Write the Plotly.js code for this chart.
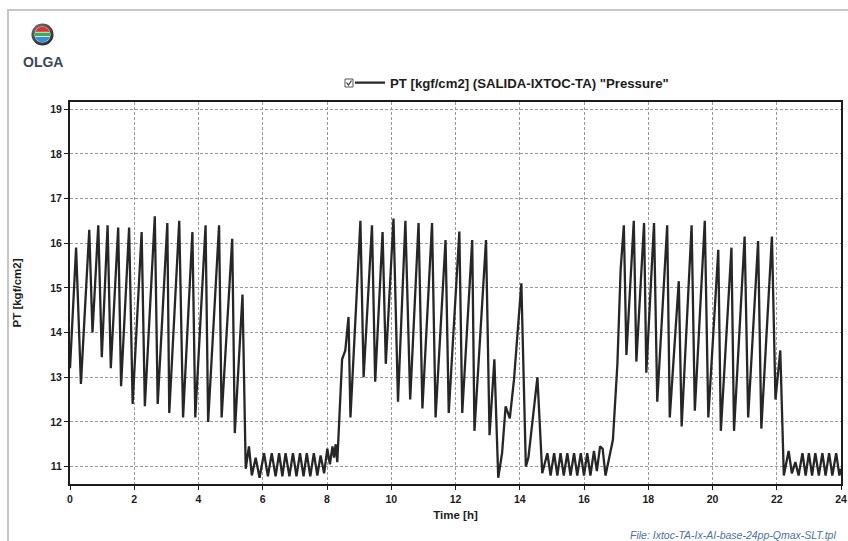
<!DOCTYPE html>
<html>
<head>
<meta charset="utf-8">
<script src="https://cdn.plot.ly/plotly-3.0.1.min.js"></script>
<style>
  html, body { margin: 0; padding: 0; background: #ffffff; }
  #chart { width: 848px; height: 541px; }
</style>
</head>
<body>
<div id="chart"></div>
<script>
// Outlet pressure trend, OLGA simulation (time in hours, pressure in kgf/cm2)
const timeH = [
  0.00, 0.19, 0.34, 0.60, 0.70, 0.88, 0.99, 1.17, 1.27, 1.50, 1.59, 1.84, 1.95,
  2.23, 2.33, 2.64, 2.73, 3.03, 3.09, 3.40, 3.52, 3.81, 3.90, 4.22, 4.30, 4.64,
  4.72, 5.05, 5.13, 5.37, 5.47,
  5.57, 5.66, 5.78, 5.90, 6.04, 6.16, 6.28, 6.40, 6.51, 6.61, 6.71, 6.83, 6.94,
  7.05, 7.16, 7.27, 7.37, 7.48, 7.59, 7.70, 7.80, 7.91, 8.01, 8.09, 8.17, 8.22,
  8.27, 8.32,
  8.47, 8.57, 8.67, 8.73, 9.04, 9.14, 9.40, 9.50, 9.73, 9.83, 10.07, 10.21,
  10.44, 10.59, 10.85, 10.97, 11.27, 11.38, 11.69, 11.79, 12.12, 12.21, 12.52,
  12.59, 12.95, 13.06, 13.21, 13.33, 13.45, 13.56, 13.69, 13.82, 13.92, 14.05,
  14.19, 14.27, 14.55, 14.70,
  14.86, 14.96, 15.07, 15.17, 15.27, 15.37, 15.48, 15.58, 15.69, 15.79, 15.90,
  16.00, 16.10, 16.20, 16.31, 16.40, 16.50, 16.58, 16.67, 16.80, 16.90,
  17.04, 17.14, 17.24, 17.32, 17.55, 17.63, 17.87, 17.94, 18.18, 18.28, 18.59,
  18.67, 18.95, 19.04, 19.35, 19.45, 19.76, 19.87, 20.18, 20.26, 20.59, 20.67,
  21.00, 21.11, 21.42, 21.52, 21.85, 21.96, 22.11, 22.22,
  22.37, 22.47, 22.58, 22.68, 22.80, 22.90, 23.00, 23.10, 23.20, 23.31, 23.42,
  23.52, 23.63, 23.73, 23.85, 23.95, 24.00
];
const pressure = [
  13.20, 15.90, 12.85, 16.30, 14.00, 16.40, 13.45, 16.40, 13.20, 16.35, 12.80, 16.35, 12.40,
  16.25, 12.35, 16.60, 12.40, 16.45, 12.20, 16.50, 12.10, 16.25, 12.10, 16.40, 12.00, 16.40,
  12.10, 16.10, 11.75, 14.85, 10.95,
  11.45, 10.80, 11.20, 10.75, 11.30, 10.78, 11.30, 10.78, 11.30, 10.78, 11.30, 10.78, 11.30,
  10.78, 11.30, 10.78, 11.30, 10.78, 11.30, 10.80, 11.25, 10.85, 11.40, 11.05, 11.45, 11.20,
  11.50, 11.10,
  13.40, 13.60, 14.35, 12.10, 16.50, 13.00, 16.40, 12.90, 16.25, 13.30, 16.55, 12.45,
  16.50, 12.50, 16.45, 12.30, 16.45, 12.10, 16.07, 12.20, 16.26, 12.20, 16.07,
  11.80, 16.07, 11.70, 13.40, 10.75, 11.30, 12.35, 12.08, 12.94, 13.90, 15.10,
  11.00, 11.20, 13.00, 10.85,
  11.30, 10.80, 11.30, 10.80, 11.30, 10.80, 11.30, 10.80, 11.30, 10.80, 11.30,
  10.80, 11.30, 10.80, 11.35, 10.90, 11.45, 11.40, 10.80, 11.30, 11.60,
  13.30, 15.40, 16.40, 13.50, 16.50, 13.35, 16.45, 13.10, 16.45, 12.45, 16.40,
  12.10, 15.15, 11.90, 16.40, 12.25, 16.50, 12.10, 15.85, 11.80, 15.90, 11.80,
  16.15, 12.10, 16.05, 11.85, 16.15, 12.50, 13.60, 10.80,
  11.35, 10.85, 11.10, 10.80, 11.30, 10.80, 11.30, 10.80, 11.30, 10.80, 11.30,
  10.80, 11.30, 10.80, 11.30, 10.80, 10.95
];
const seriesName = 'PT [kgf/cm2] (SALIDA-IXTOC-TA) "Pressure"';
const xTicks = [0, 2, 4, 6, 8, 10, 12, 14, 16, 18, 20, 22, 24];
const yTicks = [11, 12, 13, 14, 15, 16, 17, 18, 19];
const xTitle = 'Time [h]';
const yTitle = 'PT [kgf/cm2]';
const fileNote = 'File: Ixtoc-TA-Ix-AI-base-24pp-Qmax-SLT.tpl';

// page geometry and helpers to place decorations in paper coordinates
const W = 848, H = 541;
const M = { l: 70, r: 7, t: 102, b: 57 };
const PW = W - M.l - M.r, PH = H - M.t - M.b;
const px = x => (x - M.l) / PW;
const py = y => (H - M.b - y) / PH;

const FONT = 'Liberation Sans, Arial, sans-serif';
const INK = '#1c1c1c';

// logo badge: dark ring with coloured bands
const logoSvg =
  '<svg xmlns="http://www.w3.org/2000/svg" viewBox="0 0 24 24">' +
  '<defs><clipPath id="c"><circle cx="12" cy="12" r="8.2"/></clipPath>' +
  '<radialGradient id="g" cx="0.4" cy="0.35" r="0.7"><stop offset="0" stop-color="#8a8a8a"/>' +
  '<stop offset="1" stop-color="#262626"/></radialGradient></defs>' +
  '<circle cx="12" cy="12" r="11.5" fill="url(#g)"/>' +
  '<circle cx="12" cy="12" r="8.4" fill="#ffffff"/>' +
  '<g clip-path="url(#c)">' +
  '<rect x="0" y="0" width="24" height="9.2" fill="#e0332f"/>' +
  '<rect x="0" y="10" width="24" height="3.6" fill="#3daf4a"/>' +
  '<rect x="0" y="14.4" width="24" height="10" fill="#3690d6"/>' +
  '</g></svg>';

const trace = {
  x: timeH,
  y: pressure,
  type: 'scatter',
  mode: 'lines',
  name: seriesName,
  line: { color: '#262626', width: 2.3 },
  showlegend: true
};

const axisCommon = {
  showline: true,
  linecolor: INK,
  linewidth: 2,
  mirror: true,
  ticks: 'outside',
  ticklen: 4,
  tickwidth: 1,
  tickcolor: INK,
  showgrid: true,
  gridcolor: '#9a9a9a',
  gridwidth: 1,
  griddash: '3px,2px',
  zeroline: false,
  tickfont: { family: FONT, size: 10.5, color: INK, weight: 'bold' }
};

const layout = {
  width: W,
  height: H,
  margin: { l: M.l, r: M.r, t: M.t, b: M.b, pad: 0 },
  paper_bgcolor: '#ffffff',
  plot_bgcolor: '#ffffff',
  font: { family: FONT, color: INK },
  xaxis: Object.assign({}, axisCommon, {
    range: [0, 24],
    tickmode: 'array',
    tickvals: xTicks,
    ticktext: xTicks.map(String),
    title: { text: xTitle, font: { family: FONT, size: 11.5, color: INK, weight: 'bold' }, standoff: 7 }
  }),
  yaxis: Object.assign({}, axisCommon, {
    range: [10.61, 19.16],
    tickmode: 'array',
    tickvals: yTicks,
    ticktext: yTicks.map(String),
    title: { text: yTitle, font: { family: FONT, size: 11.5, color: INK, weight: 'bold' }, standoff: 26 }
  }),
  showlegend: true,
  legend: {
    orientation: 'h',
    x: px(350),
    xanchor: 'left',
    y: py(83),
    yanchor: 'middle',
    bgcolor: 'rgba(0,0,0,0)',
    borderwidth: 0,
    font: { family: FONT, size: 13.2, color: INK, weight: 'bold' }
  },
  shapes: [
    // outer frame of the exported picture
    { type: 'rect', xref: 'paper', yref: 'paper',
      x0: px(8), x1: px(860), y0: py(10), y1: py(560),
      line: { color: '#c6c6c6', width: 2 }, fillcolor: 'rgba(0,0,0,0)', layer: 'below' },
    // legend check box
    { type: 'rect', xref: 'paper', yref: 'paper',
      x0: px(345), x1: px(353), y0: py(87), y1: py(79),
      line: { color: '#555555', width: 1 }, fillcolor: '#ffffff' },
    { type: 'path', xref: 'paper', yref: 'paper',
      path: 'M ' + px(346.5) + ',' + py(82.5) + ' L ' + px(348.5) + ',' + py(85) + ' L ' + px(351.5) + ',' + py(80.5),
      line: { color: '#333333', width: 1.2 } }
  ],
  images: [
    { source: 'data:image/svg+xml;charset=utf-8,' + encodeURIComponent(logoSvg),
      xref: 'paper', yref: 'paper',
      x: px(31), y: py(23), sizex: 23 / PW, sizey: 23 / PH,
      xanchor: 'left', yanchor: 'top', sizing: 'stretch', layer: 'above' }
  ],
  annotations: [
    { text: 'OLGA', xref: 'paper', yref: 'paper', x: px(42.5), y: py(62),
      xanchor: 'center', yanchor: 'middle', showarrow: false,
      font: { family: FONT, size: 14, color: '#3a4858', weight: 'bold' } },
    { text: fileNote, xref: 'paper', yref: 'paper', x: px(838), y: py(535),
      xanchor: 'right', yanchor: 'middle', showarrow: false,
      font: { family: FONT, size: 10.5, color: '#4f71a0', style: 'italic' } }
  ]
};

Plotly.newPlot('chart', [trace], layout, { staticPlot: true, displayModeBar: false });
</script>
</body>
</html>
